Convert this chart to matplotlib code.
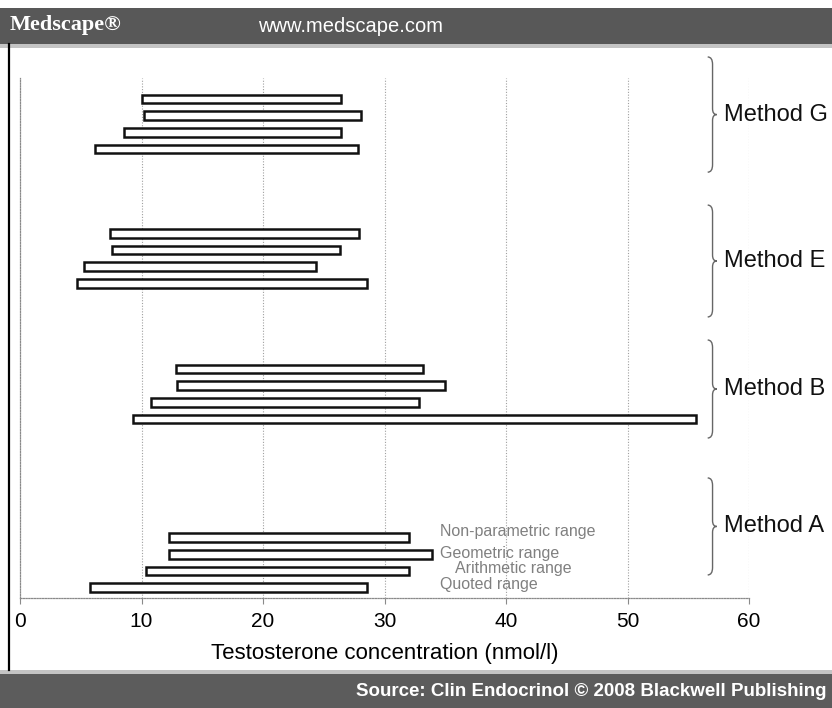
import matplotlib
matplotlib.use("Agg")
import matplotlib.pyplot as plt
from matplotlib.patches import Rectangle, PathPatch
from matplotlib.path import Path
from matplotlib.lines import Line2D

plt.rcParams['font.family'] = ['Liberation Sans', 'DejaVu Sans']

# ---- data: reference ranges (nmol/l), bottom to top within each method ----
methods = ['Method A', 'Method B', 'Method E', 'Method G']
range_types = ['Quoted range', 'Arithmetic range', 'Geometric range', 'Non-parametric range']

method_a_low = [5.8, 10.4, 12.3, 12.3]
method_a_high = [28.6, 32.0, 33.9, 32.0]
method_b_low = [9.3, 10.8, 12.9, 12.8]
method_b_high = [55.6, 32.8, 35.0, 33.2]
method_e_low = [4.7, 5.3, 7.6, 7.4]
method_e_high = [28.6, 24.4, 26.3, 27.9]
method_g_low = [6.2, 8.6, 10.2, 10.0]
method_g_high = [27.8, 26.4, 28.1, 26.4]

x_ticks = [0, 10, 20, 30, 40, 50, 60]
x_label = 'Testosterone concentration (nmol/l)'

lows = [method_a_low, method_b_low, method_e_low, method_g_low]
highs = [method_a_high, method_b_high, method_e_high, method_g_high]

# ---- layout ----
W, H = 832, 708
fig = plt.figure(figsize=(W / 100, H / 100), dpi=100)
fig.patch.set_facecolor('white')

ax_l, ax_r, ax_b, ax_t = 20, 749, 598, 78
ax = fig.add_axes([ax_l / W, (H - ax_b) / H, (ax_r - ax_l) / W, (ax_b - ax_t) / H])
ax.set_xlim(0, 60)
ax.set_ylim(0, 31.14)

group_base = [0.62, 10.72, 18.84, 26.89]
bar_step = 1.0
bar_h = 0.52

for base, lo, hi in zip(group_base, lows, highs):
    ys = [base + i * bar_step for i in range(len(lo))]
    widths = [h - l for l, h in zip(lo, hi)]
    ax.barh(ys, widths, left=lo, height=bar_h, color='white',
            edgecolor='#111111', linewidth=1.8, zorder=3)

# ---- range type labels next to Method A ----
label_x = [34.6, 35.8, 34.6, 34.6]
label_dy = [0.16, 0.17, 0.07, 0.38]
for i, name in enumerate(range_types):
    ax.text(label_x[i], group_base[0] + i * bar_step + label_dy[i], name,
            fontsize=11.5, color='#808080', va='center', ha='left', zorder=4)

# ---- curly braces with method names ----
brace_spans = [(1.38, 7.19), (9.58, 15.45), (16.83, 23.53), (25.5, 32.4)]
brace_x = 57.0


def brace(ax, x0, bot, top):
    mid = (bot + top) / 2
    w, t, h, ht = 0.4, 0.35, 0.45, 0.35
    verts = [(x0 - w, top), (x0, top), (x0, top - h),
             (x0, mid + ht),
             (x0, mid), (x0 + t, mid),
             (x0, mid), (x0, mid - ht),
             (x0, bot + h),
             (x0, bot), (x0 - w, bot)]
    codes = [Path.MOVETO, Path.CURVE3, Path.CURVE3,
             Path.LINETO,
             Path.CURVE3, Path.CURVE3,
             Path.CURVE3, Path.CURVE3,
             Path.LINETO,
             Path.CURVE3, Path.CURVE3]
    p = PathPatch(Path(verts, codes), fill=False, edgecolor='#666666',
                  linewidth=1.0, clip_on=False, zorder=4)
    ax.add_patch(p)
    return mid


for name, (bot, top) in zip(methods, brace_spans):
    mid = brace(ax, brace_x, bot, top)
    ax.text(brace_x + 0.95, mid, name, fontsize=17, color='#111111',
            va='center', ha='left', clip_on=False, zorder=5)

# ---- axes styling ----
ax.set_xticks(x_ticks)
ax.set_xticklabels([str(v) for v in x_ticks], fontsize=15)
ax.set_yticks([])
for v in x_ticks[1:]:
    ax.axvline(v, color='#a0a0a0', linestyle=(0, (1, 1.5)), linewidth=0.8, zorder=1)
for s in ['top', 'right']:
    ax.spines[s].set_visible(False)
for s in ['left', 'bottom']:
    ax.spines[s].set_color('#8a8a8a')
    ax.spines[s].set_linestyle((0, (1, 1.2)))
    ax.spines[s].set_linewidth(0.9)
ax.tick_params(axis='x', direction='out', length=4, width=0.8, color='#8a8a8a', pad=6)
ax.set_xlabel(x_label, fontsize=16, labelpad=9)

# ---- page header / footer bands ----
def band(y_top, y_bot, color):
    fig.patches.append(Rectangle((0, 1 - y_bot / H), 1, (y_bot - y_top) / H,
                                 transform=fig.transFigure, facecolor=color,
                                 edgecolor='none', zorder=0))

band(8, 44, '#585858')
band(44, 48, '#c4c4c4')
band(670, 674, '#c4c4c4')
band(674, 708, '#5c5c5c')

# left border of the panel
fig.add_artist(Line2D([8.5 / W, 8.5 / W], [1 - 44 / H, 1 - 670 / H],
                      transform=fig.transFigure, color='black', linewidth=1.6))

fig.text(10 / W, 1 - 25 / H, 'Medscape\u00ae', family=['Liberation Serif', 'DejaVu Serif'],
         fontsize=16, fontweight='bold', color='white', va='center', ha='left')
fig.text(258 / W, 1 - 26 / H, 'www.medscape.com', fontsize=14.5, color='white',
         va='center', ha='left')
fig.text(826 / W, 1 - 691 / H, 'Source: Clin Endocrinol \u00a9 2008 Blackwell Publishing',
         fontsize=13.5, fontweight='bold', color='white', va='center', ha='right')

fig.savefig('out.png', dpi=100, facecolor='white')
